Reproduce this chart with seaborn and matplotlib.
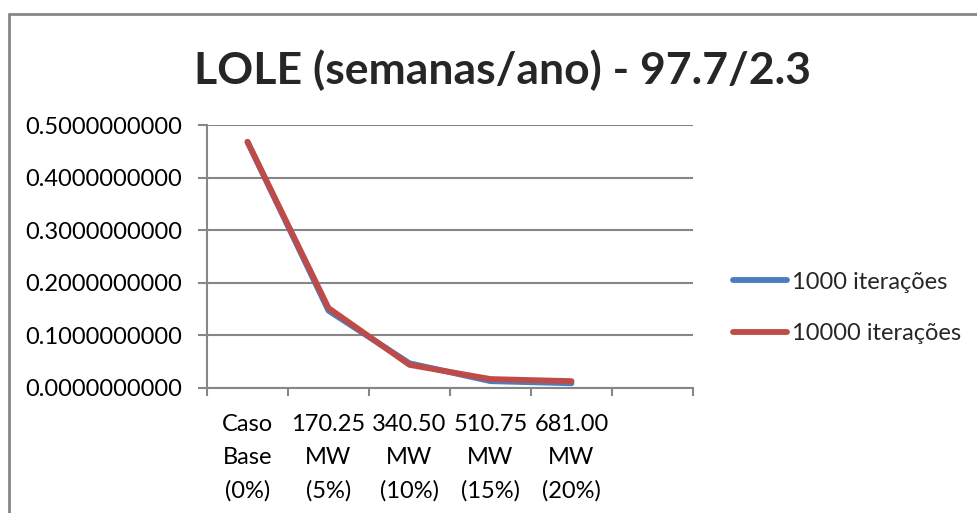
import matplotlib
matplotlib.use("Agg")
import matplotlib.pyplot as plt
from matplotlib.lines import Line2D
import numpy as np
import pandas as pd
import seaborn as sns

# Scenario categories (last slot of the category axis is left empty)
categories = ["Caso\nBase\n(0%)", "170.25\nMW\n(5%)", "340.50\nMW\n(10%)",
              "510.75\nMW\n(15%)", "681.00\nMW\n(20%)"]
n_slots = 6

# LOLE (weeks/year) for each scenario
lole_1000 = [0.468, 0.147, 0.047, 0.013, 0.009]
lole_10000 = [0.468, 0.152, 0.044, 0.017, 0.013]
series_names = ["1000 iterações", "10000 iterações"]

yticks = [0.0, 0.1, 0.2, 0.3, 0.4, 0.5]

sns.set_theme(style="white")
plt.rcParams["font.family"] = ["Lato", "DejaVu Sans"]

df = pd.DataFrame({
    "pos": list(range(len(categories))) * 2,
    "valor": lole_1000 + lole_10000,
    "serie": [series_names[0]] * len(categories) + [series_names[1]] * len(categories),
})

W, H = 977, 513
fig = plt.figure(figsize=(W / 100, H / 100), dpi=100)
fig.patch.set_facecolor("white")

x0, x1 = 207, 693
y0, y1 = 125, 388
ax = fig.add_axes([x0 / W, 1 - y1 / H, (x1 - x0) / W, (y1 - y0) / H])

palette = {series_names[0]: "#4A7EBB", series_names[1]: "#BE4B48"}
sns.lineplot(data=df, x="pos", y="valor", hue="serie", palette=palette,
             linewidth=4.2, ax=ax, legend=False, sort=False)
for ln in ax.lines:
    ln.set_solid_capstyle("round")
    ln.set_solid_joinstyle("round")

grid_c = "#868686"
ax.set_xlim(-0.5, n_slots - 0.5)
ax.set_ylim(0, 0.5)
ax.set_yticks(yticks)
ax.set_yticklabels([f"{v:.10f}" for v in yticks])
ax.yaxis.grid(True, color=grid_c, linewidth=1.5)
ax.xaxis.grid(False)
ax.set_axisbelow(True)

# category boundaries carry the tick marks, centres carry the labels
ax.set_xticks(np.arange(-0.5, n_slots, 1.0))
ax.set_xticklabels([])
ax.set_xticks(range(len(categories)), minor=True)
ax.set_xticklabels(categories, minor=True, fontsize=17, linespacing=1.68,
                   color="#000000")
ax.tick_params(axis="x", which="major", direction="out", length=6,
               width=1.5, color=grid_c, bottom=True)
ax.tick_params(axis="x", which="minor", length=0, pad=19)
ax.tick_params(axis="y", direction="out", length=6.5, width=1.5,
               color=grid_c, left=True, pad=11.5, labelsize=17,
               labelcolor="#000000")

for side in ["top", "right"]:
    ax.spines[side].set_visible(False)
for side in ["left", "bottom"]:
    ax.spines[side].set_color(grid_c)
    ax.spines[side].set_linewidth(1.5)

ax.set_xlabel("")
ax.set_ylabel("")

handles = [Line2D([], [], color=palette[s], linewidth=4.2,
                  solid_capstyle="round") for s in series_names]
fig.legend(handles, series_names, loc="center left",
           bbox_to_anchor=(733 / W, 1 - 308 / H), frameon=False,
           fontsize=17, handlelength=2.3, handletextpad=0.2,
           labelspacing=1.3, borderpad=0, borderaxespad=0)

fig.text(502 / W, 1 - 84 / H, "LOLE (semanas/ano) - 97.7/2.3",
         ha="center", va="baseline", fontsize=32, fontweight="bold",
         family=["Lato", "DejaVu Sans"])

# chart frame (top and left edges)
fig.add_artist(Line2D([9 / W, 1.0], [1 - 14 / H, 1 - 14 / H],
                      transform=fig.transFigure, color=grid_c, linewidth=2))
fig.add_artist(Line2D([9 / W, 9 / W], [0, 1 - 14 / H],
                      transform=fig.transFigure, color=grid_c, linewidth=2))

fig.savefig("out.png", dpi=100)
